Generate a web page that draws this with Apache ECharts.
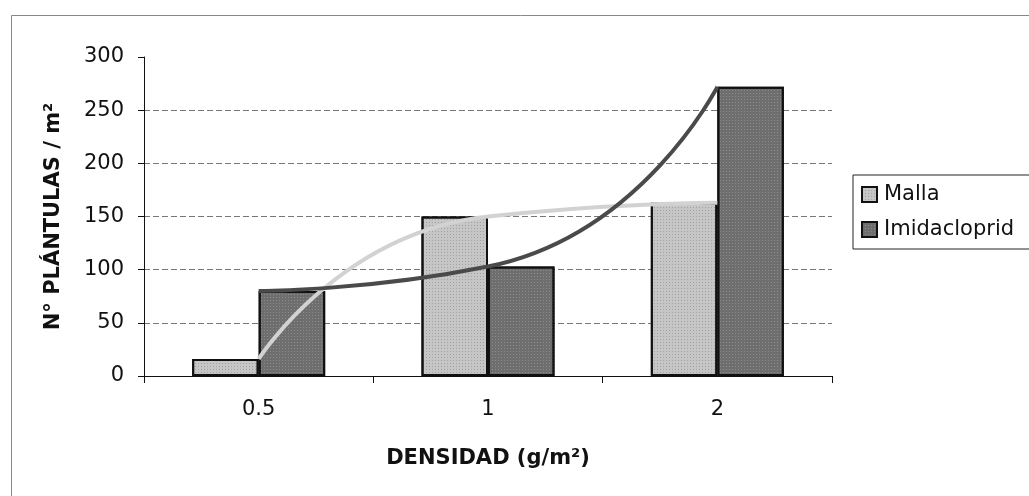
<!DOCTYPE html>
<html>
<head>
<meta charset="utf-8">
<script src="https://cdn.jsdelivr.net/npm/echarts@6/dist/echarts.min.js"></script>
<style>html,body{margin:0;padding:0;background:#fff;}#c{width:1029px;height:496px;}</style>
</head>
<body>
<div id="c"></div>
<script>
var categories = ['0.5', '1', '2'];
var mallaValues = [16, 150, 163];
var imidaValues = [80, 103, 272];
var yTicks = [0, 50, 100, 150, 200, 250, 300];

var FONT = 'DejaVu Sans';
var chart = echarts.init(document.getElementById('c'), null, {renderer: 'canvas'});
var gridColors = yTicks.map(function (v, i) {
  return (i === 0 || i === yTicks.length - 1) ? 'rgba(0,0,0,0)' : '#777';
});
chart.setOption({
  animation: false,
  backgroundColor: '#fff',
  aria: {enabled: true, decal: {show: true}},
  graphic: [{
    type: 'rect', left: 9, top: 13,
    shape: {width: 1040, height: 500},
    style: {fill: 'none', stroke: '#888', lineWidth: 1}
  }],
  grid: {left: 144, right: 197, top: 57, bottom: 120, containLabel: false},
  legend: {
    orient: 'vertical', left: 853, top: 175,
    padding: [9, 20, 9, 8],
    borderColor: '#222', borderWidth: 1,
    itemWidth: 15, itemHeight: 15, itemGap: 14,
    icon: 'rect',
    textStyle: {fontFamily: FONT, fontSize: 21, color: '#111', padding: [0, 0, 0, 2]},
    data: ['Malla', 'Imidacloprid']
  },
  xAxis: {
    type: 'category', data: categories,
    axisLine: {lineStyle: {color: '#111', width: 1}},
    axisTick: {show: true, length: 7, lineStyle: {color: '#111'}},
    axisLabel: {fontFamily: FONT, fontSize: 21, color: '#111', margin: 23},
    name: 'DENSIDAD (g/m²)', nameLocation: 'middle', nameGap: 72,
    nameTextStyle: {fontFamily: FONT, fontSize: 21, fontWeight: 'bold', color: '#111'}
  },
  yAxis: {
    type: 'value', min: 0, max: 300, interval: 50,
    axisLine: {show: true, lineStyle: {color: '#111', width: 1}},
    axisTick: {show: true, length: 6, lineStyle: {color: '#111'}},
    axisLabel: {fontFamily: FONT, fontSize: 21, color: '#111', margin: 20},
    splitLine: {show: true, lineStyle: {color: gridColors, type: [6, 3], width: 1}},
    name: 'N° PLÁNTULAS / m²', nameLocation: 'middle', nameGap: 80,
    nameTextStyle: {fontFamily: FONT, fontSize: 21, fontWeight: 'bold', color: '#111'}
  },
  series: [
    {
      name: 'Malla', type: 'bar', data: mallaValues,
      barGap: '0%', barCategoryGap: '42%',
      itemStyle: {
        color: '#c6c6c6', borderColor: '#111', borderWidth: 2,
        decal: {symbol: 'rect', symbolSize: 1, color: 'rgba(0,0,0,0.18)',
                dashArrayX: [1, 2], dashArrayY: [1, 2], rotation: 0}
      },
      z: 2
    },
    {
      name: 'Imidacloprid', type: 'bar', data: imidaValues,
      barGap: '0%', barCategoryGap: '42%',
      itemStyle: {
        color: '#6e6e6e', borderColor: '#111', borderWidth: 2,
        decal: {symbol: 'rect', symbolSize: 1, color: 'rgba(255,255,255,0.22)',
                dashArrayX: [1, 2], dashArrayY: [1, 2], rotation: 0}
      },
      z: 2
    },
    {
      name: 'Malla trend', type: 'line', data: mallaValues, smooth: 0.6,
      showSymbol: false, symbol: 'none',
      lineStyle: {color: '#d2d2d2', width: 4},
      z: 4
    },
    {
      name: 'Imidacloprid trend', type: 'line', data: imidaValues, smooth: 0.6,
      showSymbol: false, symbol: 'none',
      lineStyle: {color: '#4a4a4a', width: 4},
      z: 5
    }
  ]
});
</script>
</body>
</html>
